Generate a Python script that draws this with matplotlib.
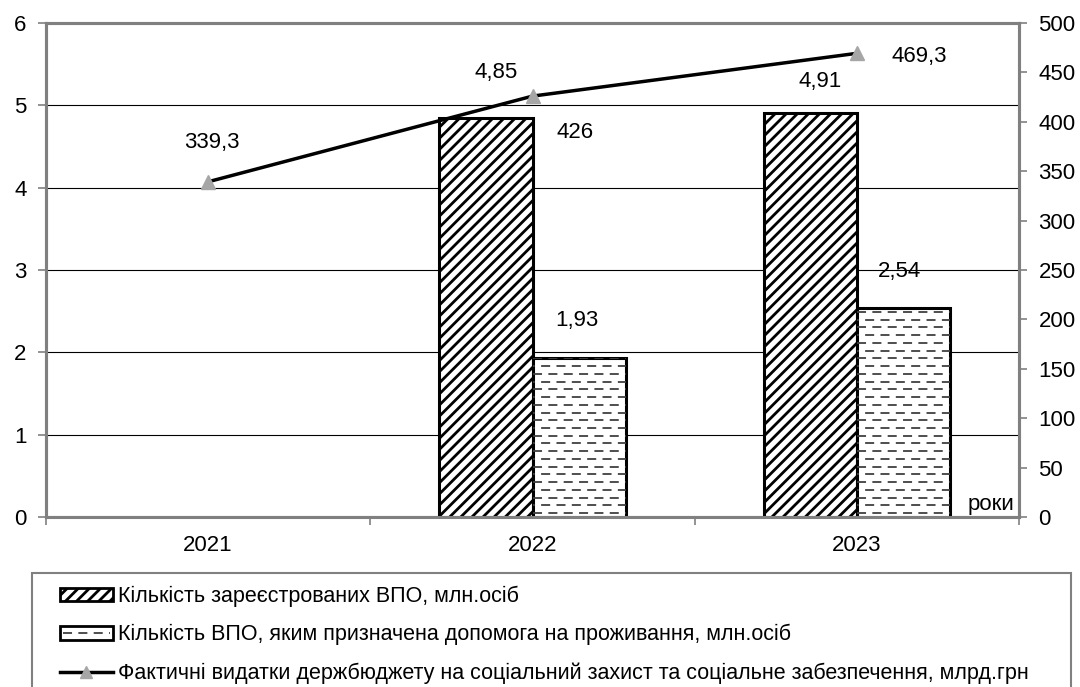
import numpy as np
import matplotlib
matplotlib.use("Agg")
import matplotlib.pyplot as plt
from matplotlib.patches import Rectangle
from matplotlib.lines import Line2D
from matplotlib.legend_handler import HandlerBase
from matplotlib import font_manager

years = ["2021", "2022", "2023"]
registered = [np.nan, 4.85, 4.91]        # млн. осіб
assisted = [np.nan, 1.93, 2.54]          # млн. осіб
spending = [339.3, 426.0, 469.3]         # млрд. грн

registered_lbl = ["", "4,85", "4,91"]
assisted_lbl = ["", "1,93", "2,54"]
spending_lbl = ["339,3", "426", "469,3"]

leg_labels = [
    "Кількість зареєстрованих ВПО, млн.осіб",
    "Кількість ВПО, яким призначена допомога на проживання, млн.осіб",
    "Фактичні видатки держбюджету на соціальний захист та соціальне забезпечення, млрд.грн",
]

names = {f.name for f in font_manager.fontManager.ttflist}
fam = "Liberation Sans Narrow" if "Liberation Sans Narrow" in names else "Liberation Sans"
plt.rcParams["font.family"] = [fam, "DejaVu Sans"]
plt.rcParams["hatch.linewidth"] = 2.0
plt.rcParams["hatch.color"] = "#333333"

FS = 16
GRAY = "#808080"
W, H = 1080, 687

fig = plt.figure(figsize=(10.8, 6.87), dpi=100)
ax = fig.add_axes([46 / W, 1 - 517 / H, (1019 - 46) / W, (517 - 23) / H])
ax2 = ax.twinx()

x = np.arange(len(years))
bw = 0.287

b1 = ax.bar(x - bw / 2, registered, bw, facecolor="white", edgecolor="black",
            linewidth=2.2, hatch="///", zorder=3)
b2 = ax.bar(x + bw / 2, assisted, bw, facecolor="white", edgecolor="black",
            linewidth=2.2, zorder=3)


# dashed fill for the second series (Excel-like pattern)
def dash_fill(axis, rect, step=0.094):
    x0, w, h = rect.get_x(), rect.get_width(), rect.get_height()
    if not np.isfinite(h) or h <= 0:
        return
    yy = step / 2
    k = 0
    while yy < h:
        off = 0 if k % 2 == 0 else 4
        ln, = axis.plot([x0, x0 + w], [yy, yy], color="#404040", lw=1.3,
                        zorder=3.5, dash_capstyle="butt")
        ln.set_linestyle((off, (5, 3.5)))
        ln.set_clip_path(rect)
        yy += step
        k += 1


for r in b2:
    dash_fill(ax, r)

ax2.plot(x, spending, color="black", lw=2.5, marker="^", markersize=10,
         markerfacecolor="#a6a6a6", markeredgecolor="#a6a6a6", zorder=5)

ax.set_xlim(-0.5, 2.5)
ax.set_ylim(0, 6)
ax2.set_ylim(0, 500)
ax.set_yticks(range(0, 7))
ax2.set_yticks(range(0, 501, 50))
ax.set_xticks(x)
ax.set_xticklabels(years)
ax.set_xticks([-0.5, 0.5, 1.5, 2.5], minor=True)
ax.tick_params(axis="x", which="major", length=0, pad=13, labelsize=FS)
ax.tick_params(axis="x", which="minor", length=6, color=GRAY, width=1.2)
ax.tick_params(axis="y", length=6, color=GRAY, width=1.2, labelsize=FS, pad=8)
ax2.tick_params(axis="y", length=6, color=GRAY, width=1.2, labelsize=FS, pad=8)

ax.grid(axis="y", color="black", lw=0.8, zorder=0)
ax.set_axisbelow(True)
for a in (ax, ax2):
    for s in a.spines.values():
        s.set_color(GRAY)
        s.set_linewidth(2.2)
ax.spines["bottom"].set_linewidth(1.5)

# data labels
reg_off = [(0, 0), (10, 45), (10, 31)]
ass_off = [(0, 0), (-2, 38), (-4, 36)]
for i in range(len(years)):
    if registered_lbl[i]:
        ax.annotate(registered_lbl[i], (x[i] - bw / 2, registered[i]),
                    xytext=reg_off[i], textcoords="offset pixels",
                    ha="center", va="center", fontsize=FS)
    if assisted_lbl[i]:
        ax.annotate(assisted_lbl[i], (x[i] + bw / 2, assisted[i]),
                    xytext=ass_off[i], textcoords="offset pixels",
                    ha="center", va="center", fontsize=FS)
sp_off = [(4, 39), (43, -36), (62, -3)]
for i in range(len(years)):
    ax2.annotate(spending_lbl[i], (x[i], spending[i]), xytext=sp_off[i],
                 textcoords="offset pixels", ha="center", va="center",
                 fontsize=FS)

ax.text(0.995, 0.004, "роки", transform=ax.transAxes, ha="right",
        va="bottom", fontsize=FS)


# legend
class DashBoxHandler(HandlerBase):
    def create_artists(self, legend, orig, xd, yd, w, h, fs, trans):
        rect = Rectangle((-xd, -yd), w, h, facecolor="white",
                         edgecolor="black", lw=2, transform=trans)
        ln = Line2D([-xd + 2, -xd + w - 2], [-yd + h / 2, -yd + h / 2],
                    color="#404040", lw=1.3, transform=trans)
        ln.set_dashes([5, 3.5])
        return [rect, ln]


h1 = Rectangle((0, 0), 1, 1, facecolor="white", edgecolor="black", lw=2,
               hatch="///")
h2 = Rectangle((0, 0), 1, 1)
h3 = Line2D([], [], color="black", lw=2.5, marker="^", markersize=9,
            markerfacecolor="#a6a6a6", markeredgecolor="#a6a6a6")
leg = fig.legend([h1, h2, h3], leg_labels, loc="upper left",
                 bbox_to_anchor=(49 / W, 1 - 575 / H), frameon=False,
                 fontsize=15.5, handlelength=2.45, handleheight=0.6,
                 handletextpad=0.25, labelspacing=0.79, borderpad=0.0,
                 handler_map={h2: DashBoxHandler()})

fig.patches.append(Rectangle((32 / W, -0.05), (1071 - 32) / W,
                             1 - 573 / H + 0.05, transform=fig.transFigure,
                             facecolor="none", edgecolor=GRAY, lw=1.5))

fig.savefig("out.png", dpi=100)
